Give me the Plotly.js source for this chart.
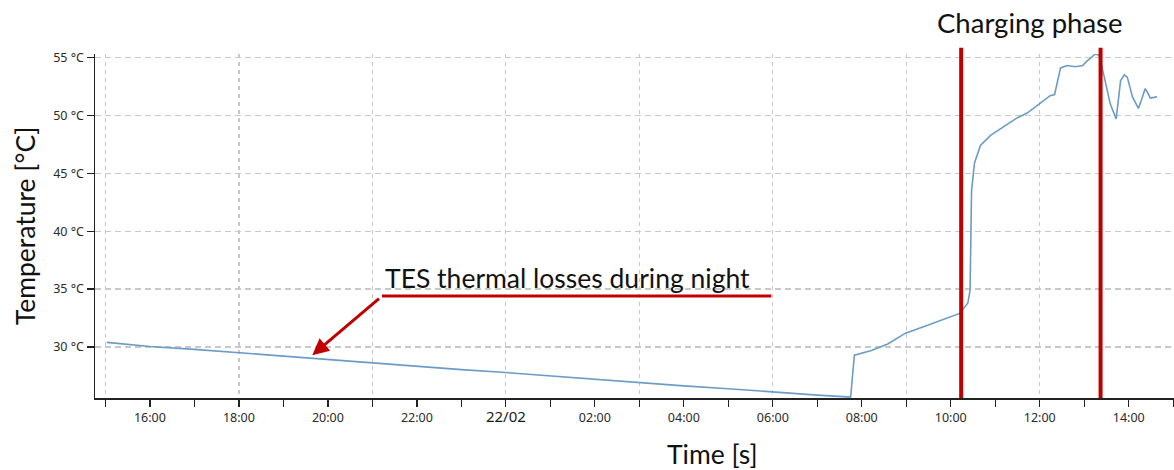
<!DOCTYPE html>
<html>
<head>
<meta charset="utf-8">
<script src="https://cdn.plot.ly/plotly-3.0.1.min.js"></script>
<style>
  html, body { margin: 0; padding: 0; background: #ffffff; }
  #chart { width: 1174px; height: 470px; }
</style>
</head>
<body>
<div id="chart"></div>
<script>
// ---- data ----
const times = [
  '2022-02-21 15:02', '2022-02-21 16:00', '2022-02-21 17:00', '2022-02-21 18:00',
  '2022-02-21 19:00', '2022-02-21 20:00', '2022-02-21 21:00', '2022-02-21 22:00',
  '2022-02-21 23:00', '2022-02-22 00:00', '2022-02-22 01:00', '2022-02-22 02:00',
  '2022-02-22 03:00', '2022-02-22 04:00', '2022-02-22 05:00', '2022-02-22 06:00',
  '2022-02-22 07:00', '2022-02-22 07:40', '2022-02-22 07:45', '2022-02-22 07:50',
  '2022-02-22 08:13', '2022-02-22 08:35', '2022-02-22 08:59', '2022-02-22 09:25',
  '2022-02-22 09:52', '2022-02-22 10:12', '2022-02-22 10:23', '2022-02-22 10:26',
  '2022-02-22 10:28', '2022-02-22 10:32', '2022-02-22 10:40', '2022-02-22 10:54',
  '2022-02-22 11:13', '2022-02-22 11:30', '2022-02-22 11:43', '2022-02-22 11:57',
  '2022-02-22 12:14', '2022-02-22 12:20', '2022-02-22 12:28', '2022-02-22 12:37',
  '2022-02-22 12:48', '2022-02-22 12:58', '2022-02-22 13:02', '2022-02-22 13:15',
  '2022-02-22 13:20', '2022-02-22 13:27', '2022-02-22 13:35', '2022-02-22 13:43',
  '2022-02-22 13:49', '2022-02-22 13:54', '2022-02-22 13:58', '2022-02-22 14:05',
  '2022-02-22 14:13', '2022-02-22 14:17', '2022-02-22 14:22', '2022-02-22 14:26',
  '2022-02-22 14:29', '2022-02-22 14:38'
];
const temps = [
  30.4, 30.05, 29.8, 29.5,
  29.2, 28.95, 28.65, 28.35,
  28.05, 27.8, 27.5, 27.2,
  26.9, 26.65, 26.4, 26.1,
  25.85, 25.7, 25.7, 29.3,
  29.7, 30.26, 31.2, 31.8,
  32.4, 32.9, 33.8, 34.9,
  43.5, 45.9, 47.4, 48.3,
  49.1, 49.8, 50.2, 50.9,
  51.7, 51.8, 54.1, 54.3,
  54.2, 54.3, 54.6, 55.3,
  55.2, 53.3, 51.0, 49.7,
  53.0, 53.5, 53.3, 51.6,
  50.6, 51.3, 52.3, 51.9,
  51.5, 51.6
];

// charging phase markers
const chargeStart = '2022-02-22 10:14';
const chargeEnd = '2022-02-22 13:22';

// annotation "TES thermal losses during night"
const arrowTipTime = '2022-02-21 19:39';
const arrowTipTemp = 29.3;
const labelLineStart = '2022-02-21 21:13';
const labelLineEnd = '2022-02-22 05:58';
const labelLineTemp = 34.4;

// axis
const xRange = ['2022-02-21 14:46', '2022-02-22 15:01'];
const yRange = [25.6, 55.3];
const yTicks = [30, 35, 40, 45, 50, 55];
const yTickText = yTicks.map(v => v + ' °C');

// hourly ticks with labels every two hours
const hourTicks = [];
const hourLabels = [];
for (let h = 15; h <= 39; h++) {
  const day = h < 24 ? 21 : 22;
  const hh = h % 24;
  const s = '2022-02-' + day + ' ' + String(hh).padStart(2, '0') + ':00';
  hourTicks.push(s);
  if (hh === 0) hourLabels.push('<span style="font-size:15px;color:#1a1a1a">22/02</span>');
  else if (hh % 2 === 0) hourLabels.push(String(hh).padStart(2, '0') + ':00');
  else hourLabels.push('');
}
// gridlines every three hours
const gridTicks = hourTicks.filter((_, i) => i % 3 === 0);

const RED = '#c00000';
const FONT = 'Lato, "Open Sans", sans-serif';

const traces = [
  {
    x: times, y: temps, type: 'scatter', mode: 'lines',
    line: { color: '#6b9cc6', width: 1.6 },
    hoverinfo: 'x+y', showlegend: false
  },
  {
    x: [], y: [], xaxis: 'x2', yaxis: 'y', type: 'scatter', mode: 'lines',
    showlegend: false, hoverinfo: 'skip'
  }
];

const layout = {
  width: 1174, height: 470,
  margin: { l: 95, r: 0, t: 54, b: 72 },
  paper_bgcolor: '#ffffff', plot_bgcolor: '#ffffff',
  showlegend: false,
  font: { family: '"Noto Sans", "Open Sans", sans-serif', size: 13, color: '#2a2a2a' },
  xaxis: {
    type: 'date', range: xRange,
    tickmode: 'array', tickvals: hourTicks, ticktext: hourLabels,
    ticks: 'outside', ticklen: 7, tickwidth: 1.3, tickcolor: '#222222',
    showgrid: false, zeroline: false,
    showline: true, linecolor: '#222222', linewidth: 1.5,
    tickfont: { size: 12.5, color: '#2a2a2a' }
  },
  xaxis2: {
    type: 'date', range: xRange, overlaying: 'x', anchor: 'y',
    tickmode: 'array', tickvals: gridTicks,
    showticklabels: false, ticks: '',
    showgrid: true, gridcolor: '#c8c8c8', gridwidth: 1.3, griddash: '4px,4px',
    zeroline: false, showline: false
  },
  yaxis: {
    range: yRange,
    tickmode: 'array', tickvals: yTicks, ticktext: yTickText,
    ticks: 'outside', ticklen: 7, tickwidth: 1.3, tickcolor: '#222222',
    showgrid: true, gridcolor: '#c8c8c8', gridwidth: 1.3, griddash: '6px,4px',
    zeroline: false,
    showline: true, linecolor: '#222222', linewidth: 1.5,
    tickfont: { size: 12.5, color: '#2a2a2a' },
    title: { text: 'Temperature [°C]', font: { family: FONT, size: 26.5, color: '#111111' }, standoff: 10 }
  },
  shapes: [
    { type: 'line', xref: 'x', yref: 'paper', x0: chargeStart, x1: chargeStart, y0: 0, y1: 1.018,
      line: { color: RED, width: 4 } },
    { type: 'line', xref: 'x', yref: 'paper', x0: chargeEnd, x1: chargeEnd, y0: 0, y1: 1.018,
      line: { color: RED, width: 4 } },
    { type: 'line', xref: 'x', yref: 'y', x0: labelLineStart, x1: labelLineEnd, y0: labelLineTemp, y1: labelLineTemp,
      line: { color: RED, width: 3 } }
  ],
  annotations: [
    { x: arrowTipTime, y: arrowTipTemp, xref: 'x', yref: 'y',
      ax: labelLineStart, ay: labelLineTemp, axref: 'x', ayref: 'y',
      text: ' ', showarrow: true, arrowhead: 2, arrowsize: 1.1, arrowwidth: 3,
      arrowcolor: RED, standoff: 0, startstandoff: 0 },
    { x: labelLineStart, y: labelLineTemp, xref: 'x', yref: 'y',
      xanchor: 'left', yanchor: 'bottom', xshift: 1, yshift: 0,
      text: 'TES thermal losses during night', showarrow: false,
      font: { family: FONT, size: 26.5, color: '#111111' } },
    { x: 0.8665, y: 1.0, xref: 'paper', yref: 'paper', xanchor: 'center', yanchor: 'middle', yshift: 32,
      text: 'Charging phase', showarrow: false,
      font: { family: FONT, size: 27.5, color: '#111111' } },
    { x: 0.572, y: 0, xref: 'paper', yref: 'paper', xanchor: 'center', yanchor: 'middle', yshift: -56,
      text: 'Time [s]', showarrow: false,
      font: { family: FONT, size: 26.5, color: '#111111' } }
  ]
};

Plotly.newPlot('chart', traces, layout, { displayModeBar: false, staticPlot: true });
</script>
</body>
</html>
